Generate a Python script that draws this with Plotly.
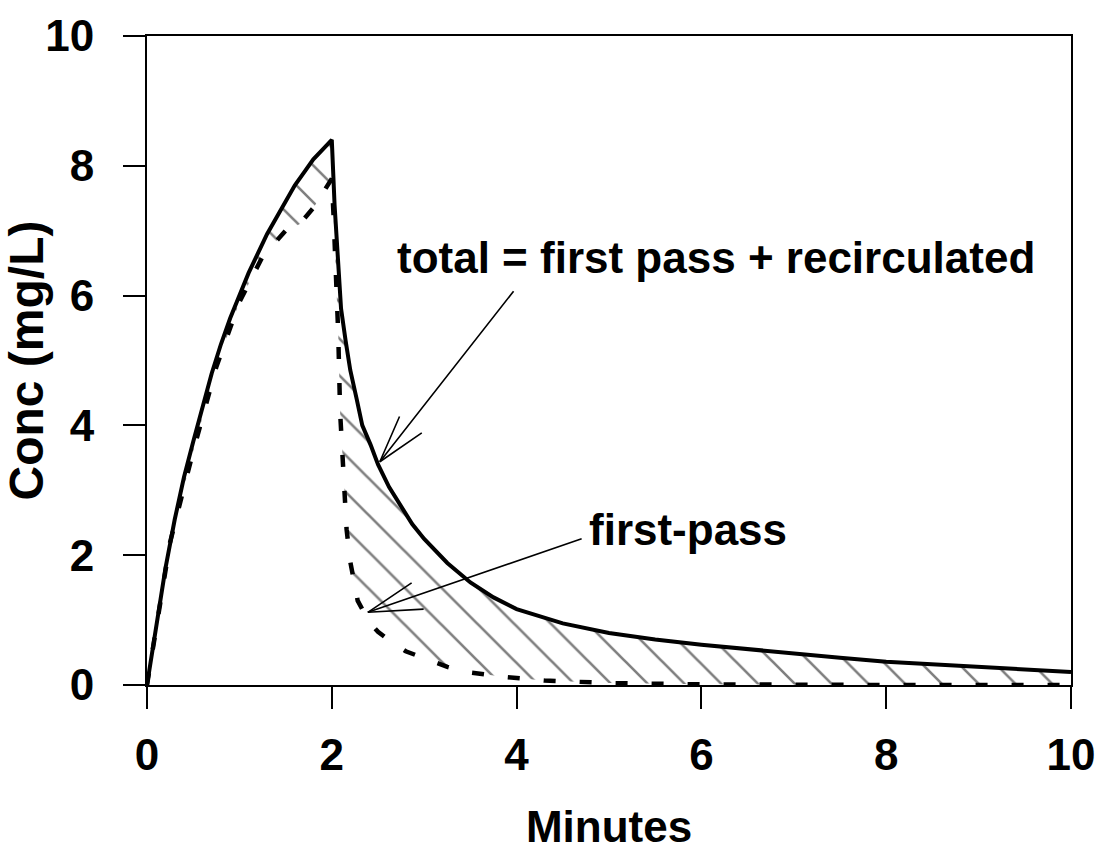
import plotly.graph_objects as go

# ---- data ----
total_x = [0, 0.1, 0.2, 0.3, 0.4, 0.5, 0.6, 0.7, 0.8, 0.9, 1.0, 1.1, 1.2, 1.3, 1.4, 1.5,
           1.6, 1.7, 1.8, 1.9, 2.0, 2.03, 2.06, 2.1, 2.15, 2.2, 2.27, 2.33, 2.42, 2.5,
           2.62, 2.75, 2.87, 3.0, 3.25, 3.5, 3.75, 4.0, 4.5, 5.0, 5.5, 6.0, 6.5, 7.0,
           7.5, 8.0, 9.0, 10.0]
total_y = [0, 0.9, 1.8, 2.55, 3.2, 3.75, 4.3, 4.8, 5.25, 5.65, 6.0, 6.35, 6.65, 6.95, 7.2, 7.45,
           7.7, 7.9, 8.1, 8.25, 8.4, 7.4, 6.6, 5.8, 5.3, 4.85, 4.4, 4.0, 3.7, 3.4,
           3.05, 2.75, 2.48, 2.25, 1.88, 1.58, 1.35, 1.17, 0.95, 0.8, 0.7, 0.62, 0.55, 0.48,
           0.42, 0.36, 0.28, 0.2]

first_x = [0, 0.25, 0.5, 0.75, 1.0, 1.25, 1.5, 1.65, 1.8, 2.0, 2.02, 2.05, 2.07, 2.09, 2.11,
           2.13, 2.16, 2.2, 2.28, 2.4, 2.5, 2.63, 2.8, 3.06, 3.25, 3.46, 3.9, 4.3, 5.0, 6.0,
           7.0, 8.0, 9.0, 10.0]
first_y = [0, 2.2, 3.6, 4.9, 5.9, 6.6, 7.0, 7.1, 7.35, 7.8, 7.2, 6.3, 5.4, 4.2, 3.6,
           3.0, 2.4, 1.9, 1.3, 0.98, 0.82, 0.68, 0.52, 0.38, 0.28, 0.2, 0.12, 0.07, 0.03, 0.01,
           0, 0, 0, 0]

x_ticks = [0, 2, 4, 6, 8, 10]
y_ticks = [0, 2, 4, 6, 8, 10]

label_total = "total = first pass + recirculated"
label_first = "first-pass"
label_total_pos = (6.16, 6.58)
label_first_pos = (5.85, 2.39)

# arrows: (tip_x, tip_y, tail_x, tail_y)
arrows = [
    (2.52, 3.44, 3.98, 6.09),
    (2.52, 3.44, 2.74, 4.16),
    (2.52, 3.44, 2.99, 3.90),
    (2.39, 1.12, 4.72, 2.26),
    (2.39, 1.12, 2.88, 1.59),
    (2.39, 1.12, 3.01, 1.17),
]

FONT = "Liberation Sans, Arial, Helvetica, sans-serif"

fig = go.Figure()
fig.add_trace(go.Scatter(
    x=first_x, y=first_y, mode="lines",
    line=dict(color="black", width=4.5, dash="12px,24px"),
    showlegend=False, hoverinfo="skip",
))
fig.add_trace(go.Scatter(
    x=total_x, y=total_y, mode="lines",
    line=dict(color="black", width=4),
    fill="tonexty", fillcolor="rgba(0,0,0,0)",
    fillpattern=dict(shape="\\", size=26, solidity=0.1,
                     fgcolor="black", bgcolor="rgba(255,255,255,0)"),
    showlegend=False, hoverinfo="skip",
))

annotations = [
    dict(x=label_total_pos[0], y=label_total_pos[1], text=label_total,
         showarrow=False, xref="x", yref="y",
         font=dict(family=FONT, size=44, color="black", weight="bold")),
    dict(x=label_first_pos[0], y=label_first_pos[1], text=label_first,
         showarrow=False, xref="x", yref="y",
         font=dict(family=FONT, size=44, color="black", weight="bold")),
]
for tx, ty, ax, ay in arrows:
    annotations.append(dict(
        x=tx, y=ty, ax=ax, ay=ay, xref="x", yref="y", axref="x", ayref="y",
        text="", showarrow=True, arrowhead=0, arrowwidth=1.6, arrowcolor="black",
    ))

fig.update_layout(
    width=1101, height=851,
    margin=dict(l=147, r=30, t=36, b=166, autoexpand=False),
    paper_bgcolor="white", plot_bgcolor="white",
    font=dict(family=FONT, color="black"),
    annotations=annotations,
)
fig.update_xaxes(
    range=[0, 10], tickvals=x_ticks, ticktext=[str(v) for v in x_ticks],
    showgrid=False, zeroline=False,
    showline=True, linecolor="black", linewidth=2, mirror=True,
    ticks="outside", ticklen=22, tickwidth=2, tickcolor="black",
    tickfont=dict(family=FONT, size=44, color="black", weight="bold"),
    ticklabelstandoff=8,
    title=dict(text="Minutes", standoff=38,
               font=dict(family=FONT, size=44, color="black", weight="bold")),
    automargin=False,
)
fig.update_yaxes(
    range=[0, 10], tickvals=y_ticks, ticktext=[str(v) for v in y_ticks],
    showgrid=False, zeroline=False,
    showline=True, linecolor="black", linewidth=2, mirror=True,
    ticks="outside", ticklen=22, tickwidth=2, tickcolor="black",
    tickfont=dict(family=FONT, size=44, color="black", weight="bold"),
    ticklabelstandoff=20,
    title=dict(text="Conc (mg/L)", standoff=14,
               font=dict(family=FONT, size=48, color="black", weight="bold")),
    automargin=False,
)

fig.write_html("out.html")
